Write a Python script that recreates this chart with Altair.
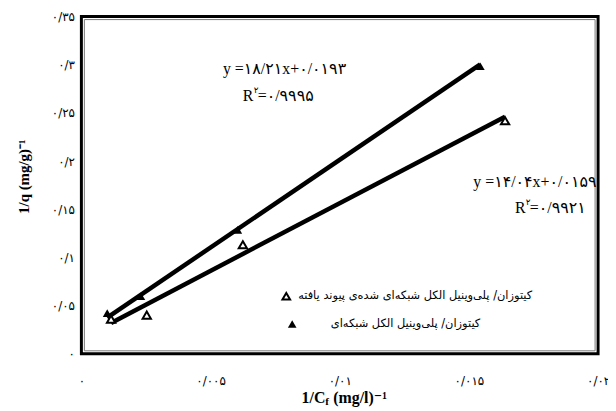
import altair as alt
import pandas as pd

# ---- data ----
cross_x = [0.00100, 0.00230, 0.00605, 0.01544]
cross_y = [0.0422, 0.0597, 0.1287, 0.2985]
graft_x = [0.00115, 0.00253, 0.00625, 0.01640]
graft_y = [0.0360, 0.0401, 0.1132, 0.2419]
cross_fit = [18.21, 0.0193]
graft_fit = [14.04, 0.0159]

y_ticks = [0, 0.05, 0.1, 0.15, 0.2, 0.25, 0.3, 0.35]
y_tick_labels = ["۰", "۰/۰۵", "۰/۱", "۰/۱۵", "۰/۲", "۰/۲۵", "۰/۳", "۰/۳۵"]
x_ticks = [0, 0.005, 0.01, 0.015, 0.02]
x_tick_labels = ["۰", "۰/۰۰۵", "۰/۰۱", "۰/۰۱۵", "۰/۰۲"]

legend_labels = ["کیتوزان/ پلی‌وینیل الکل شبکه‌ای شده‌ی پیوند یافته",
                 "کیتوزان/ پلی‌وینیل الکل شبکه‌ای"]
eq_texts = ["y =۱۸/۲۱x+۰/۰۱۹۳", "y =۱۴/۰۴x+۰/۰۱۵۹"]
r2_texts = ["=۰/۹۹۹۵", "=۰/۹۹۲۱"]
x_title_parts = ["1/C", "f", "(mg/l)⁻¹"]
y_title = "1/q (mg/g)⁻¹"

# annotation anchors (data units)
eq_pos = [(0.00548, 0.2954), (0.01517, 0.1781)]
r2_pos = [(0.00625, 0.2676), (0.01678, 0.1513)]
legend_sym_pos = [(0.00793, 0.0597), (0.00816, 0.0309)]
legend_txt_pos = [(0.01745, 0.0597), (0.01544, 0.0309)]

W, H = 521, 340
SERIF = "Liberation Serif, DejaVu Sans"
FA = "DejaVu Sans"


def label_expr(vals, labels):
    e = ""
    for v, l in zip(vals, labels):
        e += f"abs(datum.value - {v}) < 1e-9 ? '{l}' : "
    return e + "''"


xs = alt.Scale(domain=[0, 0.02], nice=False, zero=False)
ys = alt.Scale(domain=[0, 0.35], nice=False, zero=False)

pts = pd.DataFrame({
    "x": cross_x + graft_x,
    "y": cross_y + graft_y,
    "s": ["cross"] * len(cross_x) + ["graft"] * len(graft_x),
})

fit_rows = []
for name, xv, (m, b) in [("cross", cross_x, cross_fit), ("graft", graft_x, graft_fit)]:
    for xx in (min(xv), max(xv)):
        fit_rows.append({"x": xx, "y": m * xx + b, "s": name})
fits = pd.DataFrame(fit_rows)

base_x = alt.X("x:Q", scale=xs, axis=alt.Axis(
    values=x_ticks, labelExpr=label_expr(x_ticks, x_tick_labels),
    title=None, grid=False, ticks=False, domain=False,
    labelFont=FA, labelFontSize=12, labelColor="black", labelPadding=22,
    labelFlush=False))
base_y = alt.Y("y:Q", scale=ys, axis=alt.Axis(
    values=y_ticks, labelExpr=label_expr(y_ticks, y_tick_labels),
    title=y_title, grid=False, ticks=False, domain=False,
    labelFont=FA, labelFontSize=12, labelColor="black", labelPadding=7,
    titleFont="Liberation Serif", titleFontSize=15, titleFontWeight="bold",
    titleColor="black", titleX=-50, titleY=161, labelFlush=False))

one = pd.DataFrame({"k": [0]})
frame_outer = alt.Chart(one).mark_rect(fillOpacity=0, stroke="black", strokeWidth=3).encode(
    x=alt.value(0), x2=alt.value(W), y=alt.value(0), y2=alt.value(H))
frame_inner = alt.Chart(one).mark_rect(fillOpacity=0, stroke="#777777", strokeWidth=1).encode(
    x=alt.value(3), x2=alt.value(W - 3), y=alt.value(3), y2=alt.value(H - 3))

# x-axis title with a subscript f
xt_y = H + 45
xt1 = alt.Chart(one).mark_text(align="left", baseline="middle", font="Liberation Serif",
                               fontSize=16, fontWeight="bold", color="black").encode(
    x=alt.value(222), y=alt.value(xt_y), text=alt.value(x_title_parts[0]))
xt2 = alt.Chart(one).mark_text(align="left", baseline="middle", font="Liberation Serif",
                               fontSize=11, fontWeight="bold", color="black", dy=4).encode(
    x=alt.value(246), y=alt.value(xt_y), text=alt.value(x_title_parts[1]))
xt3 = alt.Chart(one).mark_text(align="left", baseline="middle", font=SERIF,
                               fontSize=16, fontWeight="bold", color="black").encode(
    x=alt.value(254), y=alt.value(xt_y), text=alt.value(x_title_parts[2]))

lines = alt.Chart(fits).mark_line(color="black", strokeWidth=4.5).encode(
    x=base_x, y=base_y, detail="s:N")

filled = alt.Chart(pts[pts.s == "cross"]).mark_point(
    shape="triangle-up", filled=True, color="black", size=80, opacity=1
).encode(x="x:Q", y="y:Q")
openp = alt.Chart(pts[pts.s == "graft"]).mark_point(
    shape="triangle-up", filled=True, fill="white", stroke="black",
    strokeWidth=2, size=70, opacity=1
).encode(x="x:Q", y="y:Q")

eq_df = pd.DataFrame({"x": [p[0] for p in eq_pos], "y": [p[1] for p in eq_pos], "t": eq_texts})
r2_df = pd.DataFrame({"x": [p[0] for p in r2_pos], "y": [p[1] for p in r2_pos], "t": r2_texts})

eqs = alt.Chart(eq_df).mark_text(align="left", baseline="middle", font=SERIF,
                                 fontSize=16, color="black").encode(x="x:Q", y="y:Q", text="t:N")
r_main = alt.Chart(r2_df).mark_text(align="left", baseline="middle", font=SERIF,
                                    fontSize=16, color="black").encode(
    x="x:Q", y="y:Q", text=alt.value("R"))
r_sup = alt.Chart(r2_df).mark_text(align="left", baseline="middle", font=FA,
                                   fontSize=9, color="black", dx=11, dy=-6).encode(
    x="x:Q", y="y:Q", text=alt.value("۲"))
r_rest = alt.Chart(r2_df).mark_text(align="left", baseline="middle", font=SERIF,
                                    fontSize=16, color="black", dx=15).encode(
    x="x:Q", y="y:Q", text="t:N")

leg_sym_df = pd.DataFrame({"x": [p[0] for p in legend_sym_pos],
                           "y": [p[1] for p in legend_sym_pos],
                           "s": ["graft", "cross"]})
leg_open = alt.Chart(leg_sym_df[leg_sym_df.s == "graft"]).mark_point(
    shape="triangle-up", filled=True, fill="white", stroke="black",
    strokeWidth=2, size=60, opacity=1).encode(x="x:Q", y="y:Q")
leg_fill = alt.Chart(leg_sym_df[leg_sym_df.s == "cross"]).mark_point(
    shape="triangle-up", filled=True, color="black", size=75, opacity=1).encode(x="x:Q", y="y:Q")
leg_txt_df = pd.DataFrame({"x": [p[0] for p in legend_txt_pos],
                           "y": [p[1] for p in legend_txt_pos], "t": legend_labels})
leg_txt = alt.Chart(leg_txt_df).mark_text(align="right", baseline="middle", font=FA,
                                          fontSize=11.5, color="black").encode(
    x="x:Q", y="y:Q", text="t:N")

chart = alt.layer(lines, frame_outer, frame_inner, filled, openp, eqs, r_main, r_sup, r_rest,
                  leg_open, leg_fill, leg_txt, xt1, xt2, xt3).properties(
    width=W, height=H,
    background="white",
    autosize=alt.AutoSizeParams(type="none"),
    padding={"left": 74, "top": 7, "right": 10, "bottom": 56},
).configure_view(stroke=None)

chart.save("out.html", embed_options={"renderer": "svg", "actions": False})
